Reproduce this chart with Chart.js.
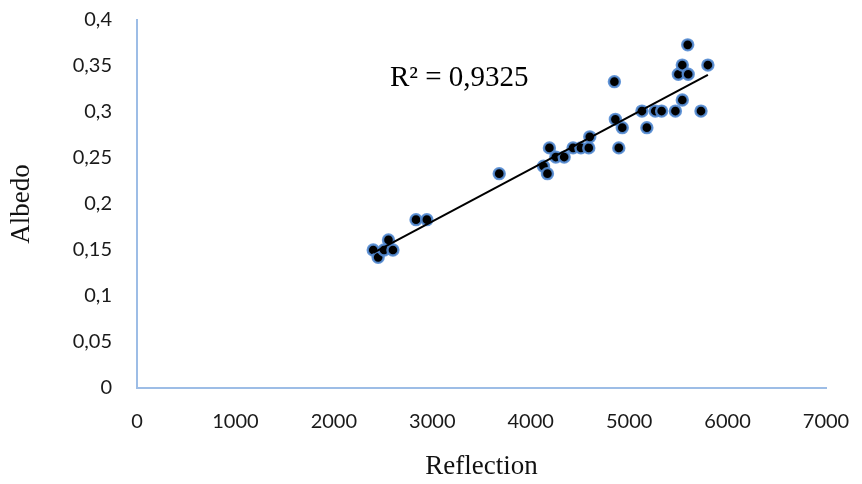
<!DOCTYPE html>
<html>
<head>
<meta charset="utf-8">
<title>Albedo vs Reflection</title>
<script src="https://cdn.jsdelivr.net/npm/chart.js@4.4.1/dist/chart.umd.min.js"></script>
<style>
  html, body { margin: 0; padding: 0; background: #fff; }
  #wrap { width: 862px; height: 484px; }
</style>
</head>
<body>
<div id="wrap"><canvas id="albedoChart" width="862" height="484"></canvas></div>
<script>
// measured samples
const reflection = [2400, 2450, 2510, 2555, 2600, 2835, 2945, 3680, 4130, 4170, 4190,
    4255, 4340, 4430, 4510, 4590, 4600, 4850, 4860, 4930, 4895, 5130, 5180,
    5265, 5330, 5470, 5540, 5500, 5540, 5600, 5595, 5800, 5730];
const albedo = [0.150, 0.142, 0.150, 0.161, 0.150, 0.183, 0.183, 0.233, 0.241, 0.233, 0.261,
    0.251, 0.251, 0.261, 0.261, 0.261, 0.273, 0.333, 0.292, 0.283, 0.261, 0.301, 0.283,
    0.301, 0.301, 0.301, 0.313, 0.341, 0.351, 0.341, 0.373, 0.351, 0.301];
const xTicks = [0, 1000, 2000, 3000, 4000, 5000, 6000, 7000];
const yTicks = [0, 0.05, 0.1, 0.15, 0.2, 0.25, 0.3, 0.35, 0.4];
const r2Label = 'R\u00B2 = 0,9325';

const points = reflection.map((x, i) => ({ x: x, y: albedo[i] }));

// least squares fit for the trend line
function linearFit(xs, ys) {
    const n = xs.length;
    const mx = xs.reduce((a, b) => a + b, 0) / n;
    const my = ys.reduce((a, b) => a + b, 0) / n;
    let sxy = 0, sxx = 0;
    for (let i = 0; i < n; i++) {
        sxy += (xs[i] - mx) * (ys[i] - my);
        sxx += (xs[i] - mx) * (xs[i] - mx);
    }
    const slope = sxy / sxx;
    return { slope: slope, intercept: my - slope * mx };
}
const fit = linearFit(reflection, albedo);
const xMin = Math.min(...reflection);
const xMax = Math.max(...reflection);
const trend = [
    { x: xMin, y: fit.intercept + fit.slope * xMin },
    { x: xMax, y: fit.intercept + fit.slope * xMax }
];

const commaNum = v => String(Math.round(v * 100) / 100).replace('.', ',');

const axisBlue = '#9dbde6';
const tickFont = { family: 'Lato, "Open Sans", sans-serif', size: 20 };
const titleFont = { family: '"Liberation Serif", "Times New Roman", serif', size: 27 };

// R² text next to the fitted line
const r2Plugin = {
    id: 'r2Text',
    afterDatasetsDraw(chart) {
        const { ctx, scales } = chart;
        ctx.save();
        ctx.font = '29px "Liberation Serif", "Times New Roman", serif';
        ctx.fillStyle = '#000';
        ctx.textBaseline = 'middle';
        ctx.textAlign = 'left';
        ctx.fillText(r2Label, scales.x.getPixelForValue(2570), scales.y.getPixelForValue(0.336));
        ctx.restore();
    }
};

new Chart(document.getElementById('albedoChart'), {
    type: 'scatter',
    data: {
        datasets: [
            {
                label: 'Trend',
                data: trend,
                showLine: true,
                borderColor: '#000',
                borderWidth: 2,
                pointRadius: 0,
                fill: false
            },
            {
                label: 'Albedo',
                data: points,
                pointRadius: 5.5,
                pointBorderWidth: 2.4,
                backgroundColor: '#000',
                borderColor: 'rgba(84,140,212,0.9)'
            }
        ]
    },
    options: {
        responsive: false,
        animation: false,
        layout: { padding: { left: 2, right: 36, top: 20, bottom: 0 } },
        plugins: { legend: { display: false }, tooltip: { enabled: false } },
        scales: {
            x: {
                type: 'linear',
                min: 0,
                max: 7000,
                afterBuildTicks: s => { s.ticks = xTicks.map(v => ({ value: v })); },
                afterFit: s => { s.height = 96; s.paddingLeft = 0; s.paddingRight = 0; },
                grid: { display: false, drawTicks: false },
                border: { display: true, color: axisBlue, width: 2 },
                ticks: { color: '#1a1a1a', font: tickFont, padding: 22, maxRotation: 0, callback: v => String(v) },
                title: { display: true, text: 'Reflection', color: '#111', font: titleFont, padding: { top: 0, bottom: 1 } }
            },
            y: {
                type: 'linear',
                min: 0,
                max: 0.4,
                afterBuildTicks: s => { s.ticks = yTicks.map(v => ({ value: v })); },
                afterFit: s => { s.width = 135; s.paddingTop = 0; s.paddingBottom = 0; },
                grid: { display: false, drawTicks: false },
                border: { display: true, color: axisBlue, width: 2 },
                ticks: { color: '#1a1a1a', font: tickFont, padding: 25, callback: v => commaNum(v) },
                title: { display: true, text: 'Albedo', color: '#111', font: titleFont, padding: { top: 4, bottom: 4 } }
            }
        }
    },
    plugins: [r2Plugin]
});
</script>
</body>
</html>
